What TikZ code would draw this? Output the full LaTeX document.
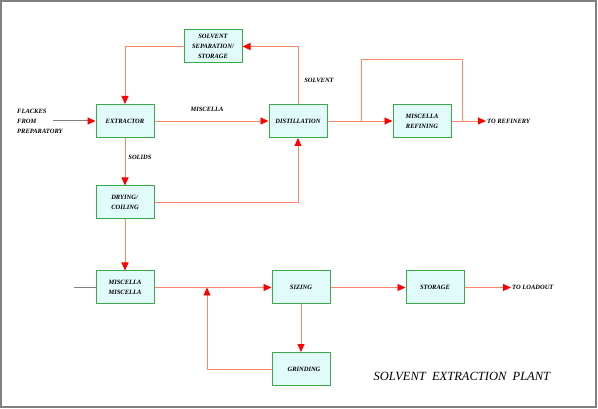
\documentclass[tikz,border=0pt]{standalone}
\usepackage{fontspec}
\setmainfont{Liberation Serif}
\usetikzlibrary{arrows.meta, positioning, calc}

\definecolor{flowline}{RGB}{255,135,105}
\definecolor{boxgreen}{RGB}{60,170,70}
\definecolor{boxfill}{RGB}{225,250,250}

\begin{document}
\begin{tikzpicture}[
    x=1pt, y=-1pt,
    unit/.style={rectangle, draw=boxgreen, fill=boxfill, line width=1pt, minimum width=58pt, minimum height=33pt, inner sep=1pt, font=\fontsize{6.5}{10}\selectfont\bfseries\itshape, align=center},
    tag/.style={font=\fontsize{6.5}{10}\selectfont\bfseries\itshape, inner sep=1pt},
    flow/.style={draw=flowline, line width=0.95pt, -{Triangle[length=8pt, width=7pt, fill=red, color=red]}},
    plain/.style={draw=flowline, line width=0.95pt}
]

    % frame
    \draw [gray, line width=1.2pt] (1,1) rectangle (596,407);
    \useasboundingbox (0,0) rectangle (598,409);

    % Units
    \node (solvsep) [unit] at (213,46.5) {SOLVENT\\SEPARATION/\\STORAGE};
    \node (extractor) [unit] at (125,121) {EXTRACTOR};
    \node (distill) [unit] at (298,121) {DISTILLATION};
    \node (refining) [unit] at (422,121) {MISCELLA\\REFINING};
    \node (drying) [unit, align=left] at (125,202.5) {DRYING/\\COILING};
    \node (miscella) [unit] at (125,287.5) {MISCELLA\\MISCELLA};
    \node (sizing) [unit] at (301,287.5) {SIZING};
    \node (storage) [unit] at (435,287.5) {STORAGE};
    \node (grinding) [unit] at (301,369) {\hspace{6pt}GRINDING};

    % Texts
    \node (flakes) [tag, align=left, anchor=west] at (16,121) {FLACKES\\FROM\\PREPARATORY};
    \node (torefinery) [tag, anchor=west] at (486,121) {TO REFINERY};
    \node (toloadout) [tag, anchor=west] at (511,287.5) {TO LOADOUT};
    \node (miscellalbl) [tag] at (207,109) {MISCELLA};
    \node (solventlbl) [tag] at (319,80) {SOLVENT};
    \node (solidslbl) [tag] at (140,157) {SOLIDS};
    \node (title) [font=\fontsize{12.5}{14}\selectfont\itshape, anchor=west] at (370,376) {SOLVENT\ \ EXTRACTION\ \ PLANT};

    % Feed lines
    \coordinate (feedin) at (53,121);
    \draw [gray, line width=1pt, -{Triangle[length=8pt, width=7pt, fill=red, color=red]}] (feedin) -- (extractor.west);
    \coordinate (feedlow) at (74,287.5);
    \draw [gray, line width=1pt] (feedlow) -- (miscella.west);

    % Upper loop
    \path [flow] (extractor) -- (distill);
    \path [flow] (distill.north) |- (solvsep.east);
    \path [flow] (solvsep.west) -| (extractor.north);

    % Refining with bypass
    \path [flow] (distill) -- (refining);
    \coordinate (bypass) at (361,121);
    \coordinate (rejoin) at (462,121);
    \path [plain] (bypass) -- ++(0,-62) -| (rejoin);
    \path [flow] (refining.east) -- (torefinery.west);

    % Solids path
    \path [flow] (extractor) -- (drying);
    \path [flow] (drying.east) -| (distill.south);
    \path [flow] (drying) -- (miscella);

    % Meal handling
    \path [flow] (miscella) -- (sizing);
    \path [flow] (sizing) -- (grinding);
    \coordinate (recycle) at (207,287.5);
    \path [flow] (grinding.west) -| (recycle);
    \path [flow] (sizing) -- (storage);
    \path [flow] (storage.east) -- (toloadout.west);

\end{tikzpicture}
\end{document}
